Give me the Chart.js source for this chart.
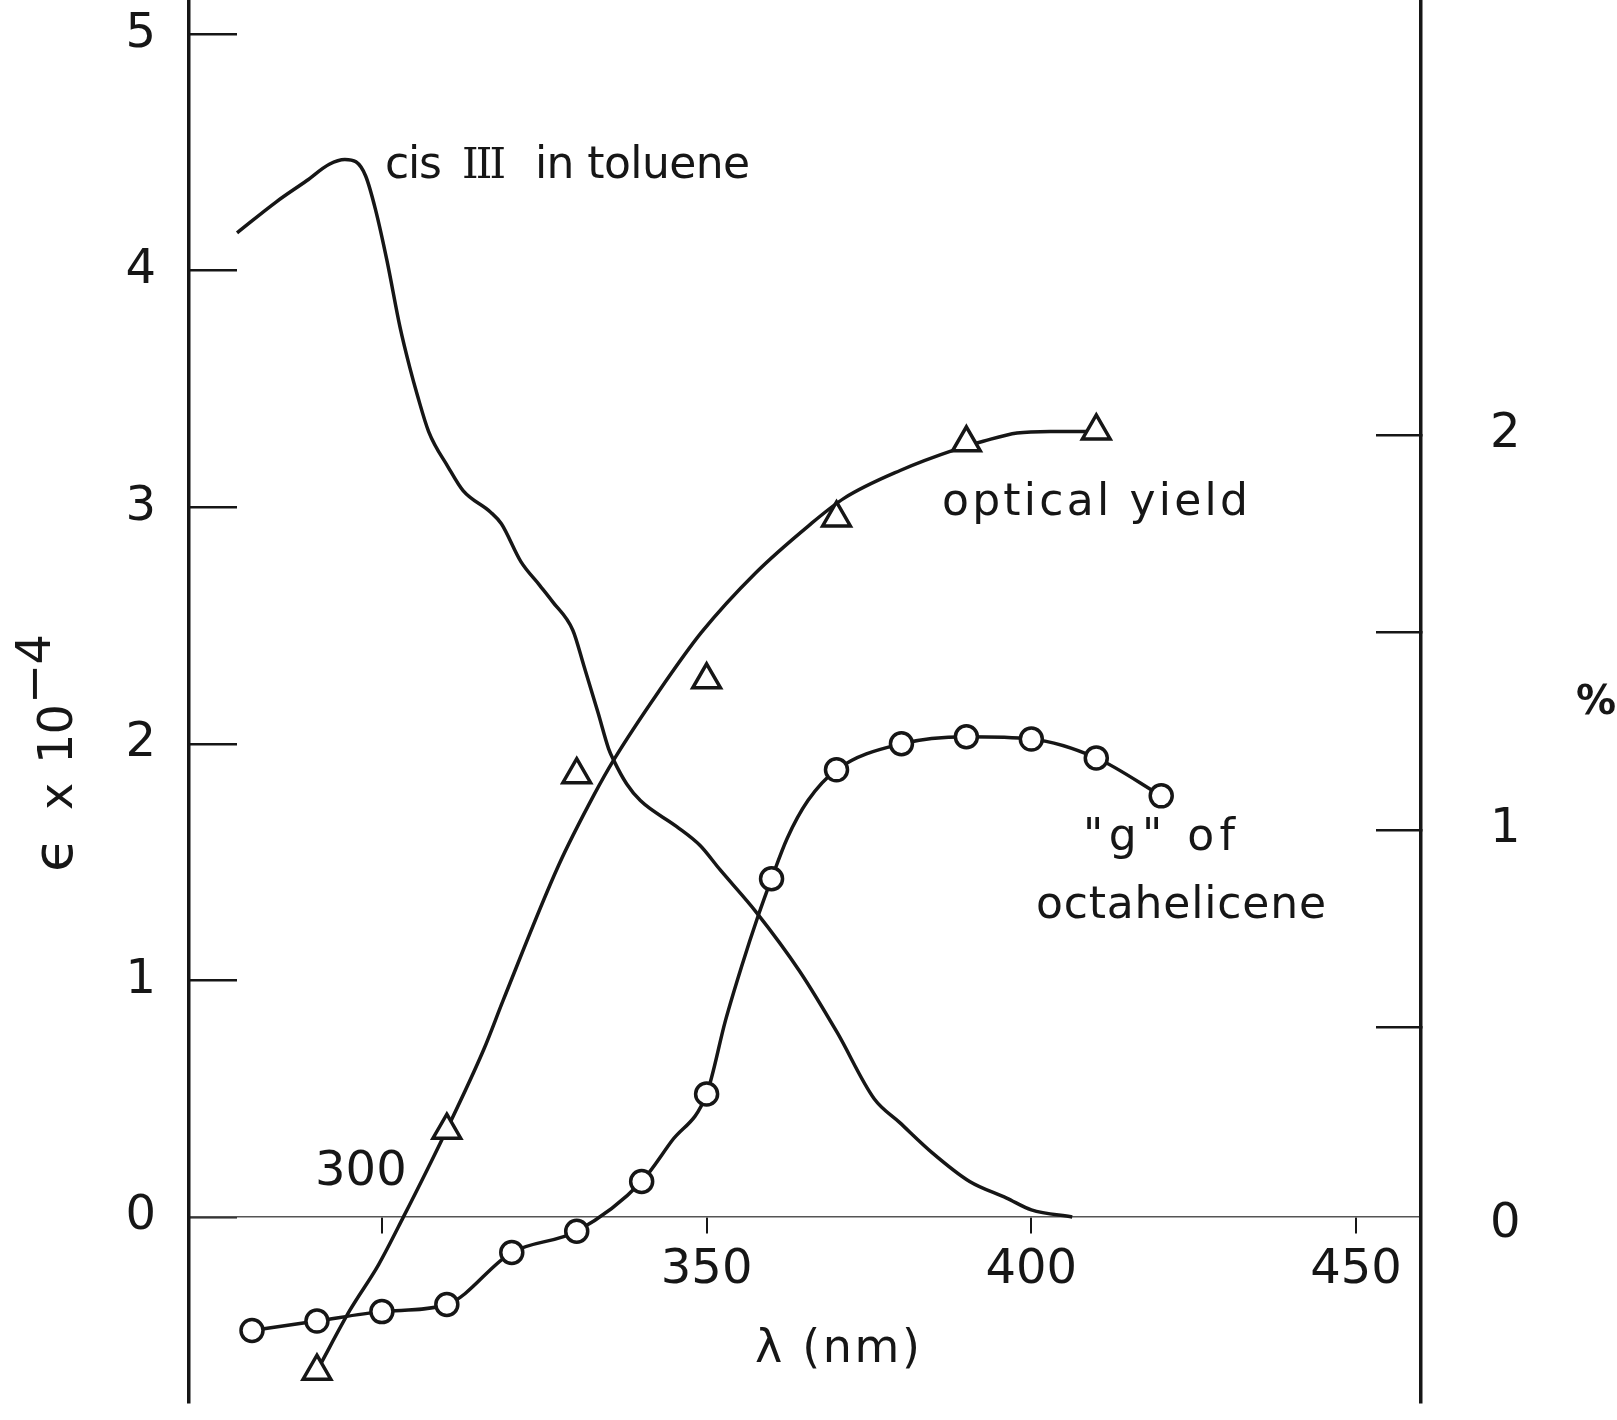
<!DOCTYPE html>
<html>
<head>
<meta charset="utf-8">
<title>cis III in toluene / optical yield / "g" of octahelicene</title>
<script src="https://cdn.jsdelivr.net/npm/chart.js@4.4.1/dist/chart.umd.min.js"></script>
<style>
  html, body { margin: 0; padding: 0; background: #fff; }
  #wrap { width: 1617px; height: 1420px; }
</style>
</head>
<body>
<div id="wrap"><canvas id="chart" width="1617" height="1420"></canvas></div>
<script>
// ─── data ─── //
// cis III absorption in toluene (left axis, ε × 10⁻⁴)
const cisWavelength = [277.7, 283.7, 288.4, 291.9, 294.3, 296.0, 297.5, 299.0, 300.8, 302.8,
  304.3, 305.5, 307.2, 310.2, 312.5, 316.7, 318.4, 321.4, 324.3, 326.3, 329.4, 331.1, 333.3,
  334.9, 335.7, 337.7, 339.8, 345.4, 349.0, 352.0, 357.6, 364.3, 370.1, 375.8, 379.7, 384.8,
  390.5, 396.2, 400.0, 406.3];
const cisEpsilon = [4.16, 4.29, 4.38, 4.45, 4.47, 4.46, 4.40, 4.26, 4.04, 3.76,
  3.59, 3.47, 3.32, 3.17, 3.07, 2.98, 2.93, 2.77, 2.67, 2.60, 2.48, 2.33, 2.13,
  1.98, 1.93, 1.83, 1.76, 1.65, 1.57, 1.47, 1.29, 1.04, 0.78, 0.50, 0.40, 0.27,
  0.15, 0.08, 0.03, 0.00];

// optical yield (right axis, %): measured triangles and the drawn curve
const yieldWavelength = [290, 310, 330, 350, 370, 390, 410];
const yieldPercent = [-0.37, 0.24, 1.14, 1.38, 1.79, 1.98, 2.01];
const yieldCurveWavelength = [290.3, 295.1, 299.5, 303.3, 309.5, 315.7, 318.7, 327.2, 332.7,
  335.8, 342.6, 349.2, 357.5, 365.7, 371.2, 379.8, 388.5, 392.6, 397.8, 402.9, 408.5];
const yieldCurvePercent = [-0.36, -0.215, -0.10, 0.02, 0.225, 0.445, 0.57, 0.91, 1.09,
  1.18, 1.35, 1.50, 1.65, 1.77, 1.84, 1.91, 1.964, 1.984, 2.005, 2.009, 2.009];

// "g" of octahelicene (plotted against the left scale): circles and the drawn curve
const gWavelength = [280, 290, 300, 310, 320, 330, 340, 350, 360, 370, 380, 390, 400, 410, 420];
const gValue = [-0.48, -0.44, -0.40, -0.37, -0.15, -0.06, 0.15, 0.52, 1.43, 1.89, 2.00, 2.03, 2.02, 1.94, 1.78];
const gCurveWavelength = [280, 290, 300, 310, 320, 330, 340, 344.6, 350, 352.9, 355.4, 357.9,
  360, 362.4, 365.6, 370, 380, 390, 400, 410, 420];
const gCurveValue = [-0.48, -0.44, -0.40, -0.37, -0.15, -0.06, 0.15, 0.32, 0.52, 0.83, 1.06, 1.27,
  1.43, 1.60, 1.76, 1.89, 2.00, 2.03, 2.02, 1.94, 1.78];

// tick values
const xTicks = [300, 350, 400, 450];
const leftTicks = [0, 1, 2, 3, 4, 5];
const rightTicks = [0, 0.5, 1, 1.5, 2];

// ─── style ─── //
const INK = '#161616';
const FONT = '"DejaVu Sans", "Liberation Sans", sans-serif';
const SERIF = '"DejaVu Serif", "Liberation Serif", serif';

const pairs = (xs, ys) => xs.map((x, i) => ({ x, y: ys[i] }));

// draws a string stretched (via letter spacing) between two x positions
function fitText(ctx, text, left, right, baseline, font) {
  ctx.font = font;
  ctx.letterSpacing = '0px';
  const w = ctx.measureText(text).width;
  const n = [...text].length;
  const ls = n > 1 ? (right - left - w) / (n - 1) : 0;
  ctx.letterSpacing = ls + 'px';
  ctx.textAlign = 'left';
  ctx.textBaseline = 'alphabetic';
  ctx.fillText(text, left, baseline);
  ctx.letterSpacing = '0px';
}

// scale paddings would otherwise push the plot area in
function noPadding(s) {
  s.paddingTop = 0;
  s.paddingBottom = 0;
  s.paddingLeft = 0;
  s.paddingRight = 0;
}

const labelsPlugin = {
  id: 'handLabels',
  afterDraw(chart) {
    const { ctx, scales } = chart;
    ctx.save();
    ctx.fillStyle = INK;

    // curve labels
    fitText(ctx, 'cis', 385, 442, 178, `44px ${FONT}`);
    fitText(ctx, 'III', 462, 506, 178, `42px ${SERIF}`);
    fitText(ctx, 'in toluene', 535, 750, 178, `44px ${FONT}`);
    fitText(ctx, 'optical yield', 942, 1248, 515, `44px ${FONT}`);
    fitText(ctx, '"g" of', 1083, 1235, 850, `44px ${FONT}`);
    fitText(ctx, 'octahelicene', 1036, 1326, 918, `44px ${FONT}`);

    // x axis title
    fitText(ctx, 'λ (nm)', 755, 920, 1362, `46px ${FONT}`);

    // "300" sits above the axis line
    ctx.font = `48px ${FONT}`;
    ctx.textAlign = 'center';
    ctx.textBaseline = 'middle';
    ctx.fillText('300', scales.x.getPixelForValue(300) - 21, scales.y.getPixelForValue(0) - 44);

    // right axis unit
    ctx.font = `bold 40px ${FONT}`;
    ctx.fillText('%', 1596, 704);

    // left axis title, rotated (reads bottom to top)
    ctx.save();
    ctx.translate(72, 872);
    ctx.rotate(-Math.PI / 2);
    fitText(ctx, 'ϵ', 0, 28, 0, `56px ${FONT}`);
    fitText(ctx, 'x', 62, 90, 0, `46px ${FONT}`);
    fitText(ctx, '10', 108, 168, 0, `48px ${FONT}`);
    fitText(ctx, '−4', 168, 238, -22, `48px ${FONT}`);
    ctx.restore();

    ctx.restore();
  }
};

const tickFont = { family: FONT, size: 48 };

new Chart(document.getElementById('chart'), {
  type: 'scatter',
  data: {
    datasets: [
      {
        label: 'optical yield',
        data: pairs(yieldWavelength, yieldPercent),
        yAxisID: 'y1',
        showLine: false,
        pointStyle: 'triangle',
        pointRadius: 16,
        pointBorderWidth: 3.5,
        pointBackgroundColor: '#fff',
        pointBorderColor: INK,
      },
      {
        label: '"g" of octahelicene',
        data: pairs(gWavelength, gValue),
        yAxisID: 'y',
        showLine: false,
        pointStyle: 'circle',
        pointRadius: 11,
        pointBorderWidth: 3.5,
        pointBackgroundColor: '#fff',
        pointBorderColor: INK,
      },
      {
        label: 'g curve',
        data: pairs(gCurveWavelength, gCurveValue),
        yAxisID: 'y',
        showLine: true,
        borderColor: INK,
        borderWidth: 3.5,
        pointRadius: 0,
        cubicInterpolationMode: 'monotone',
      },
      {
        label: 'optical yield curve',
        data: pairs(yieldCurveWavelength, yieldCurvePercent),
        yAxisID: 'y1',
        showLine: true,
        borderColor: INK,
        borderWidth: 3.5,
        pointRadius: 0,
        cubicInterpolationMode: 'monotone',
      },
      {
        label: 'cis III in toluene',
        data: pairs(cisWavelength, cisEpsilon),
        yAxisID: 'y',
        showLine: true,
        borderColor: INK,
        borderWidth: 3.5,
        pointRadius: 0,
        cubicInterpolationMode: 'monotone',
      },
    ]
  },
  options: {
    responsive: false,
    animation: false,
    devicePixelRatio: 1,
    layout: { autoPadding: false, padding: { left: 0, right: 0, top: 0, bottom: 18 } },
    plugins: {
      legend: { display: false },
      tooltip: { enabled: false }
    },
    scales: {
      x: {
        type: 'linear',
        min: 270.3,
        max: 460,
        position: { y: 0 },
        afterBuildTicks: (s) => { s.ticks = xTicks.map(v => ({ value: v })); },
        afterFit: (s) => { s.height = 0; noPadding(s); },
        grid: { drawOnChartArea: false, tickLength: 16, color: INK, lineWidth: 2 },
        border: { display: true, color: '#555', width: 1.5, dash: [10, 3] },
        ticks: {
          font: tickFont,
          color: INK,
          padding: 9,
          maxRotation: 0,
          autoSkip: false,
          callback: (v) => (v === 300 ? '' : v)
        }
      },
      y: {
        type: 'linear',
        position: 'left',
        min: -0.782,
        max: 5.144,
        afterBuildTicks: (s) => { s.ticks = leftTicks.map(v => ({ value: v })); },
        afterFit: (s) => { s.width = 189; noPadding(s); },
        grid: { drawOnChartArea: false, tickLength: -48, color: INK, lineWidth: 2.5 },
        border: { display: true, color: INK, width: 3.5 },
        ticks: { font: tickFont, color: INK, padding: 81 }
      },
      y1: {
        type: 'linear',
        position: 'right',
        min: -0.448,
        max: 3.101,
        afterBuildTicks: (s) => { s.ticks = rightTicks.map(v => ({ value: v })); },
        afterFit: (s) => { s.width = 196; noPadding(s); },
        grid: {
          drawOnChartArea: false,
          tickLength: -45,
          color: INK,
          // the zero line is the x axis itself, no separate mark there
          tickColor: (c) => (c.tick && c.tick.value === 0 ? 'rgba(0,0,0,0)' : INK),
          lineWidth: 2.5
        },
        border: { display: true, color: INK, width: 3.5 },
        ticks: {
          font: tickFont,
          color: INK,
          padding: 114,
          callback: (v) => (Number.isInteger(v) ? v : '')
        }
      }
    }
  },
  plugins: [labelsPlugin]
});
</script>
</body>
</html>
